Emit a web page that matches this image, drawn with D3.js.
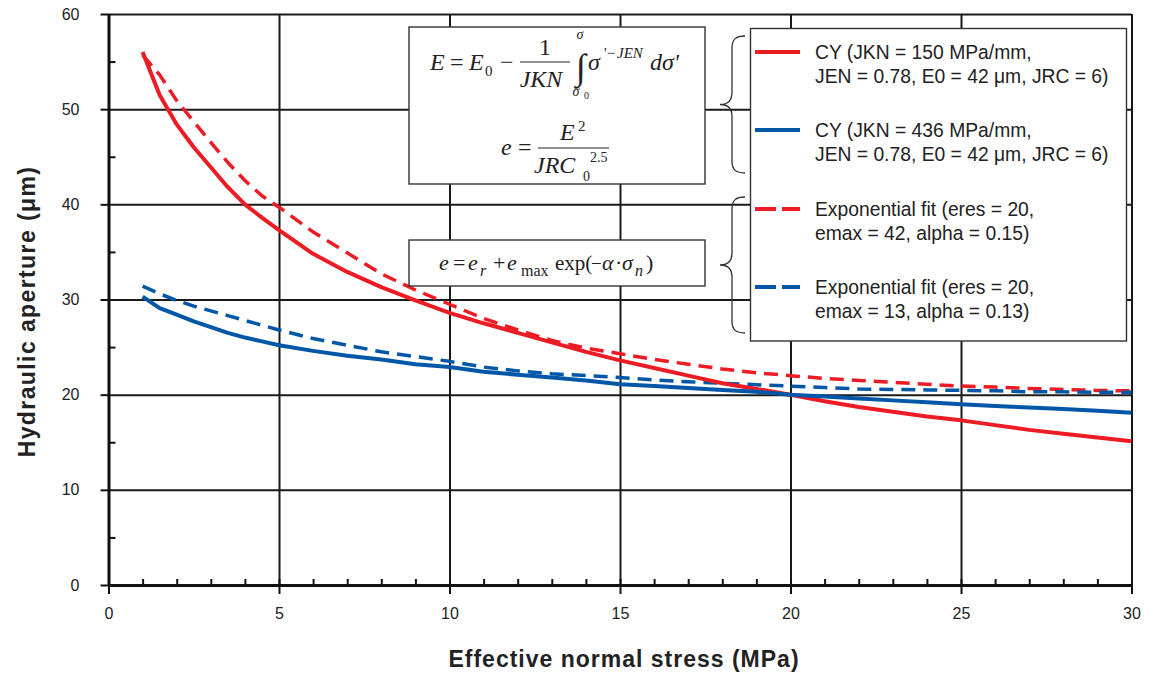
<!DOCTYPE html>
<html>
<head>
<meta charset="utf-8">
<script src="https://cdn.jsdelivr.net/npm/d3@7"></script>
<style>
	body { margin: 0; background: #fff; }
	svg { display: block; }
</style>
</head>
<body>
<div id="chart"></div>
<script>
// effective normal stress (MPa) sample points
const stress = [1, 1.5, 2, 2.5, 3, 3.5, 4, 4.5, 5, 6, 7, 8, 9, 10, 11, 12, 13, 14, 15, 16, 17, 18, 19, 20, 21, 22, 23, 24, 25, 26, 27, 28, 29, 30];
// hydraulic aperture (um)
const cy150 = [56.0, 51.5, 48.4, 46.0, 43.9, 41.8, 40.0, 38.6, 37.3, 34.8, 32.9, 31.3, 29.9, 28.6, 27.5, 26.5, 25.5, 24.5, 23.6, 22.8, 22.0, 21.2, 20.6, 20.0, 19.3, 18.7, 18.2, 17.7, 17.3, 16.8, 16.3, 15.9, 15.5, 15.1];
const cy436 = [30.3, 29.1, 28.4, 27.7, 27.1, 26.5, 26.0, 25.6, 25.2, 24.6, 24.1, 23.7, 23.2, 22.9, 22.4, 22.1, 21.8, 21.5, 21.1, 20.9, 20.7, 20.5, 20.3, 20.0, 19.8, 19.6, 19.4, 19.2, 19.0, 18.8, 18.65, 18.5, 18.3, 18.1];
const fit42 = [55.7, 53.6, 50.9, 48.7, 46.5, 44.4, 42.5, 40.9, 39.7, 37.1, 34.9, 32.7, 31.0, 29.5, 28.0, 26.8, 25.7, 24.9, 24.3, 23.7, 23.2, 22.7, 22.3, 22.0, 21.7, 21.5, 21.3, 21.1, 20.9, 20.8, 20.65, 20.55, 20.45, 20.4];
const fit13 = [31.4, 30.6, 29.9, 29.3, 28.8, 28.3, 27.8, 27.3, 26.8, 25.9, 25.2, 24.5, 24.0, 23.5, 22.9, 22.5, 22.2, 22.0, 21.8, 21.55, 21.35, 21.2, 21.05, 20.9, 20.75, 20.6, 20.55, 20.5, 20.45, 20.4, 20.3, 20.3, 20.25, 20.25];

const seriesNames = [
	["CY (JKN = 150 MPa/mm,", "JEN = 0.78, E0 = 42 μm, JRC = 6)"],
	["CY (JKN = 436 MPa/mm,", "JEN = 0.78, E0 = 42 μm, JRC = 6)"],
	["Exponential fit (eres = 20,", "emax = 42, alpha = 0.15)"],
	["Exponential fit (eres = 20,", "emax = 13, alpha = 0.13)"],
];
const xTicks = [0, 5, 10, 15, 20, 25, 30];
const yTicks = [0, 10, 20, 30, 40, 50, 60];

const RED = "#ed1c24";
const BLUE = "#0057a8";
const sans = "Liberation Sans, Arial, sans-serif";
const serif = "Liberation Serif, Times New Roman, serif";

const margin = { top: 14, right: 19.5, bottom: 92, left: 108.5 };
const width = 1151 - margin.left - margin.right;
const height = 677 - margin.top - margin.bottom;

const root = d3.select("#chart").append("svg").attr("width", 1151).attr("height", 677);
const svg = root.append("g").attr("transform", `translate(${margin.left}, ${margin.top})`);

const x = d3.scaleLinear().domain([0, 30]).range([0, width]);
const y = d3.scaleLinear().domain([0, 60]).range([height, 0]);

// grid lines
svg.append("g")
	.attr("transform", `translate(0, ${height})`)
	.call(d3.axisBottom(x).tickValues(xTicks).tickSize(-height).tickFormat(""))
	.call((g) => g.select(".domain").remove())
	.selectAll("line").attr("stroke", "#1a1a1a").attr("stroke-width", 2);
svg.append("g")
	.call(d3.axisLeft(y).tickValues(yTicks).tickSize(-width).tickFormat(""))
	.call((g) => g.select(".domain").remove())
	.selectAll("line").attr("stroke", "#1a1a1a").attr("stroke-width", 2);

// curves
const series = [
	{ values: cy150, color: RED, dash: null },
	{ values: cy436, color: BLUE, dash: null },
	{ values: fit42, color: RED, dash: "14,8" },
	{ values: fit13, color: BLUE, dash: "14,8" },
];
const line = d3.line().x((d) => x(d[0])).y((d) => y(d[1]));
// dashed first so the solid ones sit on top
[2, 3, 0, 1].forEach((i) => {
	const s = series[i];
	svg.append("path")
		.datum(stress.map((v, k) => [v, s.values[k]]))
		.attr("d", line)
		.attr("fill", "none")
		.attr("stroke", s.color)
		.attr("stroke-width", s.dash ? 3.5 : 4)
		.attr("stroke-dasharray", s.dash)
		.attr("stroke-linejoin", "round");
});

// minor ticks (inside)
svg.append("g")
	.attr("transform", `translate(0, ${height})`)
	.call(d3.axisBottom(x).tickValues(d3.range(1, 30)).tickSize(-6).tickFormat(""))
	.call((g) => g.select(".domain").remove())
	.selectAll("line").attr("stroke", "#111").attr("stroke-width", 2);
svg.append("g")
	.call(d3.axisLeft(y).tickValues(d3.range(5, 60, 10)).tickSize(-7).tickFormat(""))
	.call((g) => g.select(".domain").remove())
	.selectAll("line").attr("stroke", "#111").attr("stroke-width", 2);

// main axes
const xAxis = svg.append("g").attr("transform", `translate(0, ${height})`)
	.call(d3.axisBottom(x).tickValues(xTicks).tickSizeInner(9).tickSizeOuter(0).tickPadding(14));
const yAxis = svg.append("g")
	.call(d3.axisLeft(y).tickValues(yTicks).tickSizeInner(8).tickSizeOuter(0).tickPadding(21));
[xAxis, yAxis].forEach((a) => {
	a.selectAll(".domain").attr("stroke", "#111").attr("stroke-width", 3);
	a.selectAll("line").attr("stroke", "#111").attr("stroke-width", 2);
	a.selectAll("text").style("font-family", sans).style("font-size", "16px").attr("fill", "#222");
});

// axis titles
svg.append("text")
	.attr("x", width / 2 + 4)
	.attr("y", height + 82)
	.attr("text-anchor", "middle")
	.style("font-family", sans)
	.style("font-size", "23px")
	.style("font-weight", "bold")
	.style("letter-spacing", "1px")
	.attr("fill", "#222")
	.text("Effective normal stress (MPa)");
svg.append("text")
	.attr("transform", `translate(-74, ${height / 2 + 12}) rotate(-90)`)
	.attr("text-anchor", "middle")
	.style("font-family", sans)
	.style("font-size", "23px")
	.style("font-weight", "bold")
	.style("letter-spacing", "1.4px")
	.attr("fill", "#222")
	.text("Hydraulic aperture (μm)");

// equation boxes
const ann = root.append("g");
const boxStyle = (r) => r.attr("fill", "#fff").attr("stroke", "#333").attr("stroke-width", 1.4);
ann.append("rect").attr("x", 409).attr("y", 27).attr("width", 296).attr("height", 157).call(boxStyle);
ann.append("rect").attr("x", 409).attr("y", 240).attr("width", 296).attr("height", 46).call(boxStyle);

function piece(t, px, py, size, italic, anchor) {
	ann.append("text")
		.attr("x", px)
		.attr("y", py)
		.attr("text-anchor", anchor || "start")
		.style("font-family", serif)
		.style("font-size", size + "px")
		.style("font-style", italic ? "italic" : "normal")
		.attr("fill", "#222")
		.text(t);
}
function bar(x1, x2, yy) {
	ann.append("line").attr("x1", x1).attr("x2", x2).attr("y1", yy).attr("y2", yy).attr("stroke", "#222").attr("stroke-width", 1.2);
}
// E = E0 - 1/JKN * int sigma'^-JEN dsigma'
piece("E", 430, 70, 24, true);
piece("=", 450, 70, 24, false);
piece("E", 469, 70, 24, true);
piece("0", 485, 76, 15, false);
piece("−", 500, 70, 24, false);
piece("1", 545, 55, 24, false, "middle");
bar(520, 570, 62);
piece("JKN", 541, 87, 24, true, "middle");
piece("∫", 581, 79, 36, false, "middle");
piece("σ", 580, 39, 14, true, "middle");
piece("σ", 576, 96, 14, true, "middle");
piece("0", 584, 99, 10, false);
piece("σ", 588, 70, 24, true);
piece("'−", 604, 58, 15, false);
piece("JEN", 617, 58, 15, true);
piece("dσ'", 650, 70, 24, true);
// e = E^2 / JRC0^2.5
piece("e", 501, 155, 24, true);
piece("=", 518, 155, 24, false);
bar(538, 609, 148);
piece("E", 560, 140, 24, true);
piece("2", 578, 131, 15, false);
piece("JRC", 534, 173, 24, true);
piece("0", 583, 181, 14, false);
piece("2.5", 590, 162, 14, false);
// e = er + emax exp(-alpha sigma_n)
piece("e", 439, 270, 22, true);
piece("=", 453, 270, 22, false);
piece("e", 468, 270, 22, true);
piece("r", 480, 276, 16, true);
piece("+", 493, 270, 22, false);
piece("e", 507, 270, 22, true);
piece("max", 521, 276, 16, false);
piece("exp(", 555, 270, 21, false);
piece("−", 591, 270, 19, false);
piece("α", 602, 270, 22, true);
piece("·", 615, 270, 22, false);
piece("σ", 622, 270, 22, true);
piece("n", 635, 276, 16, true);
piece(")", 646, 270, 22, false);

// braces grouping the legend entries
function brace(top, bottom) {
	const mid = (top + bottom) / 2;
	const p = d3.path();
	p.moveTo(745, top);
	p.bezierCurveTo(736, top, 732, top + 3, 732, top + 12);
	p.lineTo(732, mid - 12);
	p.bezierCurveTo(732, mid - 4, 728, mid, 720, mid);
	p.bezierCurveTo(728, mid, 732, mid + 4, 732, mid + 12);
	p.lineTo(732, bottom - 12);
	p.bezierCurveTo(732, bottom - 3, 736, bottom, 745, bottom);
	ann.append("path").attr("d", p.toString()).attr("fill", "none").attr("stroke", "#333").attr("stroke-width", 1.3);
}
brace(36, 173);
brace(197, 333);

// legend
const legend = ann.append("g");
legend.append("rect").attr("x", 750.5).attr("y", 28.5).attr("width", 376).attr("height", 312.5).call(boxStyle);
const legendY = [52, 130, 209, 287];
series.forEach((s, i) => {
	legend.append("line")
		.attr("x1", 755).attr("x2", 800)
		.attr("y1", legendY[i]).attr("y2", legendY[i])
		.attr("stroke", s.color)
		.attr("stroke-width", 4)
		.attr("stroke-dasharray", s.dash ? "21,6" : null);
	seriesNames[i].forEach((t, k) => {
		legend.append("text")
			.attr("x", 815)
			.attr("y", legendY[i] + 7 + k * 23.5)
			.style("font-family", sans)
			.style("font-size", "19.3px")
			.attr("fill", "#222")
			.text(t);
	});
});
</script>
</body>
</html>
